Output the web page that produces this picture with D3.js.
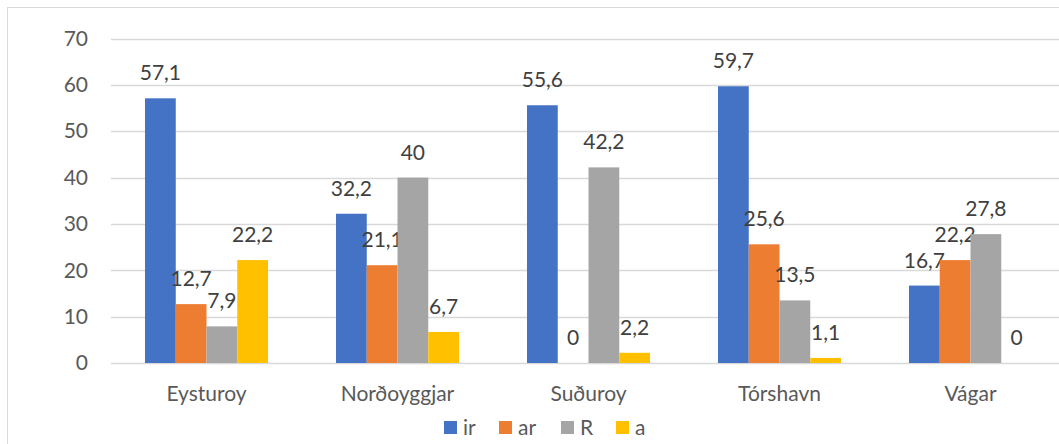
<!DOCTYPE html>
<html>
<head>
<meta charset="utf-8">
<script src="https://cdn.jsdelivr.net/npm/d3@7"></script>
<style>
  html, body { margin: 0; padding: 0; background: #fff; }
  svg { display: block; }
  text { font-family: Lato, "Open Sans", sans-serif; }
</style>
</head>
<body>
<svg id="chart" width="1059" height="444"></svg>
<script>
// Regions and the four series shown per region
const categories = ["Eysturoy", "Norðoyggjar", "Suðuroy", "Tórshavn", "Vágar"];
const seriesNames = ["ir", "ar", "R", "a"];
const seriesColors = ["#4472C4", "#ED7D31", "#A5A5A5", "#FFC000"];
const irValues = [57.1, 32.2, 55.6, 59.7, 16.7];
const arValues = [12.7, 21.1, 0, 25.6, 22.2];
const rValues = [7.9, 40, 42.2, 13.5, 27.8];
const aValues = [22.2, 6.7, 2.2, 1.1, 0];
const yTicks = [0, 10, 20, 30, 40, 50, 60, 70];

const seriesValues = [irValues, arValues, rValues, aValues];
const FONT = "21px";

const svg = d3.select("#chart");
const W = 1059, H = 444;

// Outer chart frame
svg.append("rect")
  .attr("x", 7.5).attr("y", 7.5)
  .attr("width", W + 10).attr("height", H + 10)
  .attr("fill", "#fff").attr("stroke", "#d9d9d9").attr("stroke-width", 1);

const plot = { left: 111, right: 1066, top: 38.5, bottom: 363 };

const x = d3.scaleBand()
  .domain(categories)
  .range([plot.left, plot.right])
  .paddingInner(0.356)
  .paddingOuter(0.178);

const xs = d3.scaleBand()
  .domain(seriesNames)
  .range([0, x.bandwidth()]);

const y = d3.scaleLinear().domain([0, 70]).range([plot.bottom, plot.top]);

// Horizontal gridlines
svg.append("g")
  .selectAll("line")
  .data(yTicks)
  .join("line")
  .attr("x1", plot.left).attr("x2", W)
  .attr("y1", d => Math.round(y(d)) + 0.5)
  .attr("y2", d => Math.round(y(d)) + 0.5)
  .attr("stroke", "#d9d9d9").attr("stroke-width", 1.5);

// Y axis tick labels
const yAxis = d3.axisLeft(y).tickValues(yTicks).tickSize(0).tickPadding(0);
const yG = svg.append("g").attr("transform", `translate(${plot.left - 23},0)`).call(yAxis);
yG.select(".domain").remove();
yG.selectAll("text")
  .attr("fill", "#595959")
  .style("font-size", FONT)
  .style("font-family", "Lato, 'Open Sans', sans-serif");

// Bars
const groups = svg.append("g")
  .selectAll("g")
  .data(categories)
  .join("g")
  .attr("transform", d => `translate(${x(d)},0)`);

const cells = groups.selectAll("g")
  .data((c, ci) => seriesNames.map((s, si) => ({ s, si, v: seriesValues[si][ci] })))
  .join("g");

cells.append("rect")
  .attr("x", d => xs(d.s))
  .attr("width", xs.bandwidth())
  .attr("y", d => y(d.v))
  .attr("height", d => y(0) - y(d.v))
  .attr("fill", d => seriesColors[d.si]);

// Value labels above each bar
cells.append("text")
  .attr("x", d => xs(d.s) + xs.bandwidth() / 2)
  .attr("y", d => y(d.v) - 18)
  .attr("text-anchor", "middle")
  .attr("fill", "#404040")
  .style("font-size", FONT)
  .text(d => String(d.v).replace(".", ","));

// Category labels
const xAxis = d3.axisBottom(x).tickSize(0).tickPadding(0);
const xG = svg.append("g").attr("transform", `translate(0,${plot.bottom + 23})`).call(xAxis);
xG.select(".domain").remove();
xG.selectAll("text")
  .attr("fill", "#595959")
  .style("font-size", FONT)
  .style("font-family", "Lato, 'Open Sans', sans-serif");

// Legend
const legendX = [444, 499, 561, 616];
const legend = svg.append("g")
  .selectAll("g")
  .data(seriesNames)
  .join("g")
  .attr("transform", (d, i) => `translate(${legendX[i]},421)`);
legend.append("rect")
  .attr("width", 13).attr("height", 13)
  .attr("fill", (d, i) => seriesColors[i]);
legend.append("text")
  .attr("x", 19).attr("y", 14)
  .attr("fill", "#595959")
  .style("font-size", FONT)
  .text(d => d);
</script>
</body>
</html>
